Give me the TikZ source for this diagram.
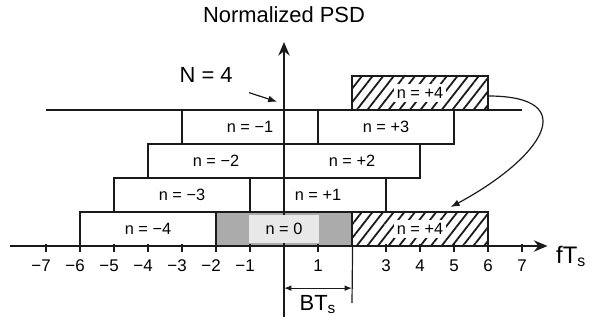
\documentclass[tikz,border=0pt]{standalone}
\usepackage{fontspec}
\setmainfont{Liberation Sans}
\usetikzlibrary{arrows.meta,patterns.meta}
\definecolor{Ink}{HTML}{1A1A1A}
\definecolor{Shade}{HTML}{ABABAB}
\definecolor{ShadeLight}{HTML}{E8E8E8}
\tikzset{
  band/.style={draw=Ink,line width=0.6pt,inner sep=0pt,minimum width=2.4cm,minimum height=0.6cm,font=\fontsize{8.2}{9}\selectfont},
  hatched/.style={pattern={Lines[angle=52,distance=4.2pt,line width=0.9pt]},pattern color=Ink},
  tag/.style={font=\fontsize{8.2}{9}\selectfont,inner sep=1.5pt},
  ticklabel/.style={font=\fontsize{8.5}{9}\selectfont,anchor=base},
  axis/.style={Ink,line width=1pt,-{Stealth[length=2.4mm,width=2mm]}},
  pointer/.style={Ink,line width=0.6pt,-{Latex[length=1.6mm,width=1.2mm]}},
}
\begin{document}
\begin{tikzpicture}[x=0.6cm,y=0.6cm]
        \useasboundingbox (-8.353,-2.235) rectangle (9.059,7.235);
        % bottom row
        \node[band] (m4) at (-4,0.5) {n = −4};
        \node[band,fill=Shade] (z0) at (0,0.5) {};
        \node[band,hatched] (p4) at (4,0.5) {};
        % staircase
        \node[band] (m3) at (-3,1.5) {n = −3};
        \node[band] (p1) at (1,1.5) {n = +1};
        \node[band] (m2) at (-2,2.5) {n = −2};
        \node[band] (p2) at (2,2.5) {n = +2};
        \node[band] (m1) at (-1,3.5) {n = −1};
        \node[band] (p3) at (3,3.5) {n = +3};
        \node[band,hatched] (top4) at (4,4.5) {};
        \draw[Ink,line width=0.8pt] (-7,4) -- (7,4);
        % axes
        \draw[axis] (-8.06,0) -- (7.75,0);
        \draw[axis] (0,-2.1) -- (0,6);
        \foreach \x/\t in {-7/{\llap{−}7},-6/{\llap{−}6},-5/{\llap{−}5},-4/{\llap{−}4},-3/{\llap{−}3},-2/{\llap{−}2},-1/{\llap{−}1},1/1,3/3,4/4,5/5,6/6,7/7}{
          \draw[Ink,line width=0.6pt] (\x,0.05) -- (\x,-0.17);
          \node[ticklabel] (tick\x) at (\x,-0.74) {\t};
        }
        \node[tag,fill=ShadeLight,minimum width=1.25cm,minimum height=0.5cm] (z0t) at (z0) {n = 0};
        \node[tag,fill=white] (p4t) at (p4) {n = +4};
        \node[tag,fill=white] (top4t) at (top4) {n = +4};
        % labels
        \node[font=\fontsize{11}{13}\selectfont] (psd) at (0,6.79) {Normalized PSD};
        \node[font=\fontsize{12}{14}\selectfont,anchor=base west] (fts) at (7.8,-0.51) {fT\textsubscript{s}};
        \node[font=\fontsize{11}{13}\selectfont] (nfour) at (-2.29,5.03) {N = 4};
        \coordinate (nfourtip) at (-0.2,4.24);
        \draw[pointer,shorten <=5pt] (nfour.south east) -- (nfourtip);
        % fold-over of n = +4
        \draw[pointer] ([yshift=-1.5pt]top4.east) .. controls (8.8,4.4) and (7.6,2.6) .. ([xshift=0.54cm,yshift=2pt]p4.north);
        % bandwidth
        \coordinate (bwl) at (0,-1.24);
        \coordinate (bwr) at (2,-1.24);
        \draw[Ink,line width=0.6pt] (z0.south east) -- (2,-1.68);
        \draw[Ink,line width=0.6pt,{Latex[length=1.3mm,width=1mm]}-{Latex[length=1.3mm,width=1mm]}] (bwl) -- (bwr);
        \node[font=\fontsize{11}{13}\selectfont,anchor=base] (bts) at (1,-1.89) {BT\textsubscript{s}};
      \end{tikzpicture}
\end{document}
